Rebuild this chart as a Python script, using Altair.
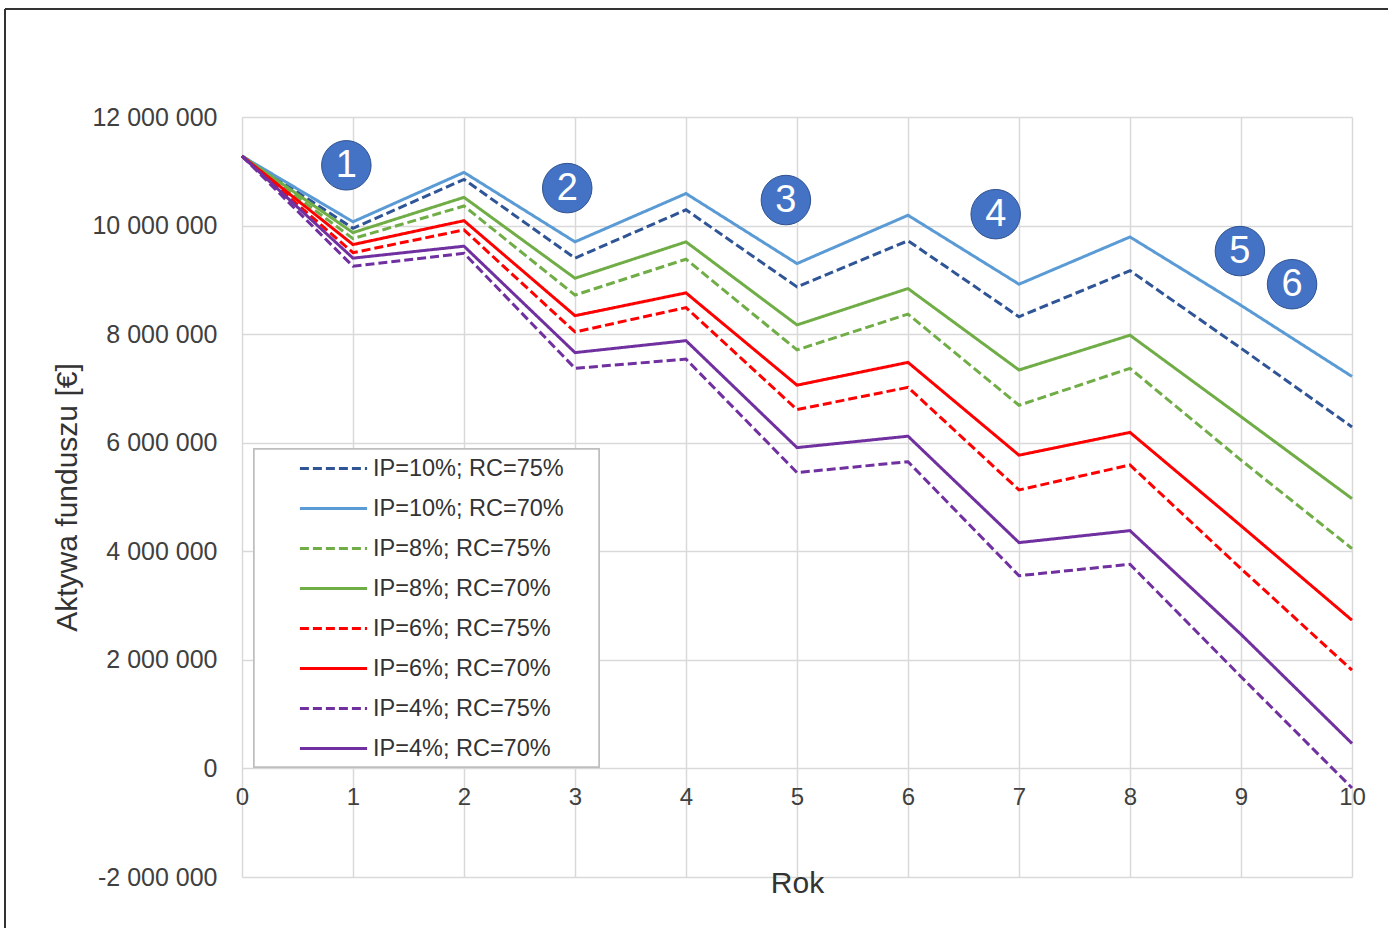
import altair as alt
import pandas as pd

# ---------------- data ----------------
years = list(range(11))

series_names = [
    "IP=10%; RC=75%",
    "IP=10%; RC=70%",
    "IP=8%; RC=75%",
    "IP=8%; RC=70%",
    "IP=6%; RC=75%",
    "IP=6%; RC=70%",
    "IP=4%; RC=75%",
    "IP=4%; RC=70%",
]

# values in millions of EUR
s_10_75 = [11.28, 9.95, 10.85, 9.40, 10.29, 8.87, 9.72, 8.32, 9.17, 7.74, 6.29]
s_10_70 = [11.28, 10.07, 10.98, 9.70, 10.59, 9.30, 10.19, 8.92, 9.79, 8.53, 7.22]
s_8_75 = [11.28, 9.76, 10.36, 8.72, 9.38, 7.71, 8.37, 6.69, 7.37, 5.68, 4.05]
s_8_70 = [11.28, 9.87, 10.52, 9.03, 9.70, 8.17, 8.84, 7.34, 7.98, 6.48, 4.97]
s_6_75 = [11.28, 9.50, 9.92, 8.04, 8.49, 6.61, 7.02, 5.13, 5.59, 3.68, 1.81]
s_6_70 = [11.28, 9.65, 10.09, 8.34, 8.76, 7.06, 7.48, 5.77, 6.19, 4.47, 2.73]
s_4_75 = [11.28, 9.25, 9.49, 7.37, 7.54, 5.45, 5.65, 3.55, 3.76, 1.69, -0.36]
s_4_70 = [11.28, 9.40, 9.62, 7.66, 7.88, 5.91, 6.12, 4.16, 4.38, 2.47, 0.46]

series_values = [s_10_75, s_10_70, s_8_75, s_8_70, s_6_75, s_6_70, s_4_75, s_4_70]

y_ticks = [-2000000, 0, 2000000, 4000000, 6000000, 8000000, 10000000, 12000000]

# numbered circle annotations (data coordinates)
ann_labels = ["1", "2", "3", "4", "5", "6"]
ann_x = [0.94, 2.93, 4.90, 6.79, 8.99, 9.46]
ann_y = [11.11, 10.69, 10.47, 10.21, 9.53, 8.92]

# ---------------- tables ----------------
rows = []
for name, vals in zip(series_names, series_values):
    for yr, v in zip(years, vals):
        rows.append({"Rok": yr, "Aktywa": v * 1e6, "Seria": name})
df = pd.DataFrame(rows)

ann_df = pd.DataFrame({"x": ann_x, "y": [v * 1e6 for v in ann_y], "label": ann_labels})

colors = ["#2F5597", "#5B9BD5", "#70AD47", "#70AD47",
          "#FF0000", "#FF0000", "#7030A0", "#7030A0"]
dashes = [[9, 4], [1, 0], [9, 4], [1, 0], [9, 4], [1, 0], [9, 4], [1, 0]]

FONT = "Liberation Sans"
x_scale = alt.Scale(domain=[0, 10], nice=False, zero=False)
y_scale = alt.Scale(domain=[-2000000, 12000000], nice=False, zero=False)

legend = alt.Legend(
    title=None,
    orient="none",
    legendX=12,
    legendY=330,
    padding=8,
    symbolType="M-2.8,0L2.8,0",
    symbolSize=576,
    symbolStrokeWidth=3,
    symbolOffset=58,
    labelOffset=26,
    labelFontSize=23.5,
    labelFont=FONT,
    labelColor="#333333",
    rowPadding=15,
    labelLimit=400,
)

lines = alt.Chart(df).mark_line(strokeWidth=3).encode(
    x=alt.X(
        "Rok:Q",
        scale=x_scale,
        axis=alt.Axis(
            values=years,
            format="d",
            title="Rok",
            offset=-109.4,
            labelPadding=18,
            labelFlush=False,
            labelOverlap=False,
            titleY=116,
            titleBaseline="middle",
            titleFontSize=30,
            titleFontWeight="normal",
        ),
    ),
    y=alt.Y(
        "Aktywa:Q",
        scale=y_scale,
        axis=alt.Axis(
            values=y_ticks,
            title="Aktywa funduszu [€]",
            labelExpr="replace(replace(format(datum.value, ','), regexp(',', 'g'), ' '), '\u2212', '-')",
            labelPadding=25,
            labelFontSize=25,
            labelFlush=False,
            labelOverlap=False,
            titleX=-175,
            titleY=380,
            titleAlign="center",
            titleBaseline="middle",
            titleAngle=270,
            titleFontSize=30,
            titleFontWeight="normal",
        ),
    ),
    color=alt.Color("Seria:N", scale=alt.Scale(domain=series_names, range=colors), legend=legend),
    strokeDash=alt.StrokeDash("Seria:N", scale=alt.Scale(domain=series_names, range=dashes), legend=legend),
)

legend_box = alt.Chart(ann_df).mark_rect(
    fill="white", stroke="#bfbfbf", strokeWidth=1.5
).encode(x=alt.value(12), x2=alt.value(357), y=alt.value(332), y2=alt.value(650))

circles = alt.Chart(ann_df).mark_circle(
    size=2450, color="#4472C4", opacity=1, stroke="#2F528F", strokeWidth=1
).encode(x=alt.X("x:Q", scale=x_scale), y=alt.Y("y:Q", scale=y_scale))

numbers = alt.Chart(ann_df).mark_text(
    color="white", fontSize=38, font=FONT, align="center", baseline="middle", dy=1
).encode(x=alt.X("x:Q", scale=x_scale), y=alt.Y("y:Q", scale=y_scale), text="label:N")

frame_top = alt.Chart(ann_df).mark_rule(color="#333333", strokeWidth=2).encode(
    x=alt.value(-237), x2=alt.value(1146), y=alt.value(-108)
)
frame_left = alt.Chart(ann_df).mark_rule(color="#333333", strokeWidth=2).encode(
    x=alt.value(-237), y=alt.value(-108), y2=alt.value(811)
)

chart = alt.layer(legend_box, lines, circles, numbers, frame_top, frame_left).properties(
    width=1110,
    height=760,
    autosize=alt.AutoSizeParams(type="none"),
    padding={"left": 242, "top": 117, "right": 36, "bottom": 51},
    background="white",
).configure_view(stroke=None).configure_axis(
    grid=True,
    gridColor="#d9d9d9",
    gridWidth=1.5,
    domain=False,
    ticks=False,
    labelFont=FONT,
    labelFontSize=24,
    labelColor="#404040",
    titleFont=FONT,
    titleColor="#333333",
).configure_text(font=FONT)

chart.save("out.html", embed_options={"renderer": "svg", "actions": False})
